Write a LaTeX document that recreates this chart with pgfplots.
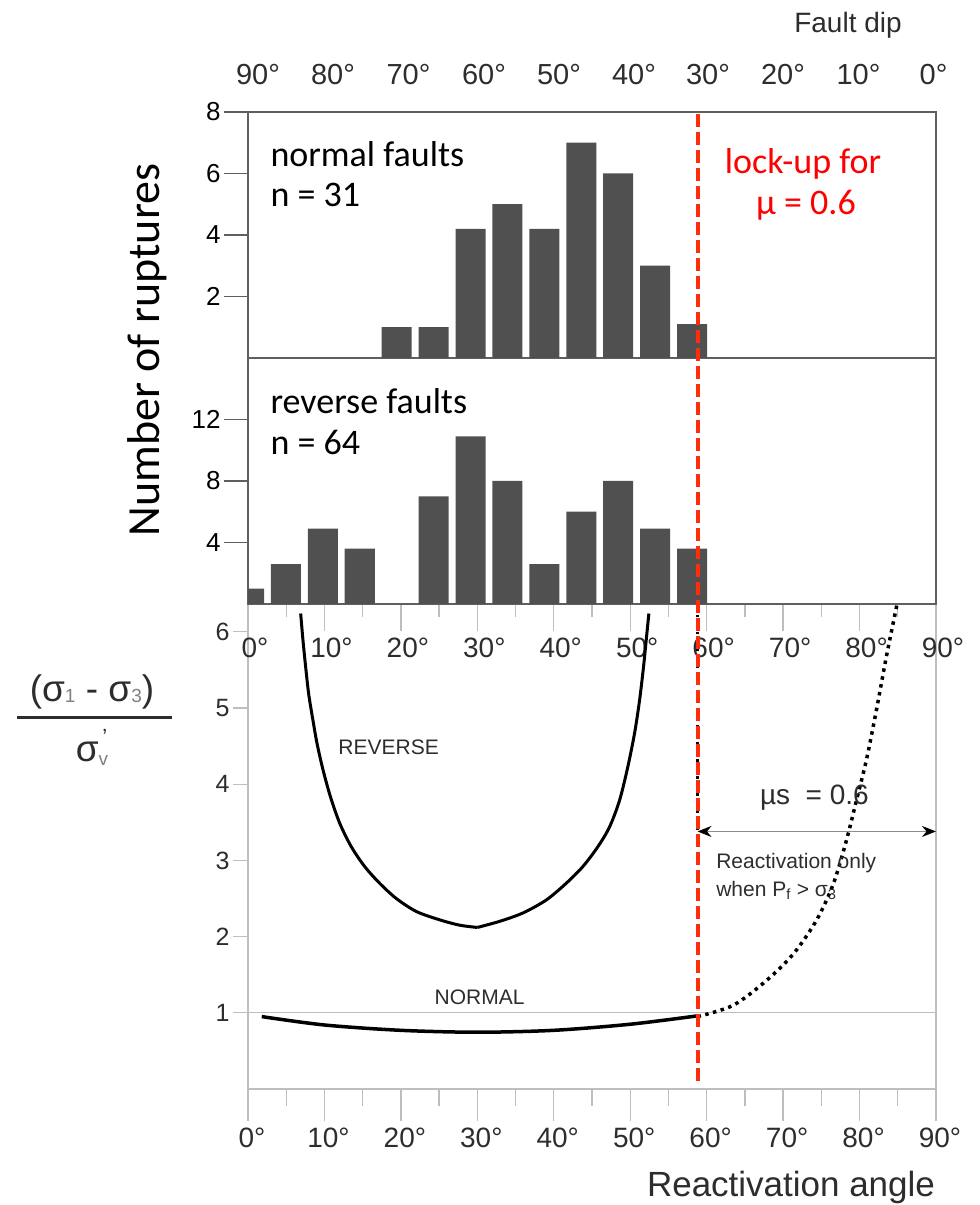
\documentclass[border=0pt]{standalone}
\usepackage{fontspec}
\setmainfont{Liberation Sans}
\newfontfamily\calib{Carlito}
\usepackage{pgfplots}
\pgfplotsset{compat=1.18}
\usetikzlibrary{arrows.meta}
\definecolor{barc}{RGB}{80,80,80}
\definecolor{framec}{RGB}{95,95,95}
\definecolor{lightf}{RGB}{190,190,190}
\definecolor{redl}{RGB}{255,45,10}
\definecolor{textg}{RGB}{45,45,45}
\newcommand{\fs}[1]{\fontsize{#1}{#1}\selectfont}
\pgfplotsset{
  geom/.style={scale only axis, anchor=south west, width=688pt, xmin=0, xmax=90},
}
\begin{document}
\begin{tikzpicture}[x=1pt,y=1pt]
\useasboundingbox (0,0) rectangle (980,1205);

% ---------- bottom panel: stress ratio ----------
\begin{axis}[geom, at={(248pt,116pt)}, height=485pt, ymin=0, ymax=6.365,
  clip=false,
  axis line style={draw=lightf, line width=1.3pt},
  xtick={0,10,...,90}, xticklabels={0°,10°,20°,30°,40°,50°,60°,70°,80°,90°},
  minor xtick={5,15,...,85}, xtick pos=left, tick align=outside,
  major tick length=32pt, minor tick length=17pt,
  tick style={draw=lightf, line width=1.3pt}, ytick=\empty,
  xticklabel style={font=\fs{28}, text=textg, xshift=4pt, yshift=-3pt}]
% inner ticks along the top edge of the panel
\pgfplotsinvokeforeach{0,10,...,90}{\draw[lightf, line width=1.3pt] (axis cs:#1,6.365) -- ++(0pt,-27pt);}
\pgfplotsinvokeforeach{5,15,...,85}{\draw[lightf, line width=1.3pt] (axis cs:#1,6.365) -- ++(0pt,-13pt);}
\pgfplotsinvokeforeach{0,10,...,90}{\node[font=\fs{28}, text=textg, xshift=7pt] at (axis cs:#1,5.79) {#1°};}
\addplot[lightf, line width=1.3pt] coordinates {(0,1) (90,1)};
\addplot[black, line width=3pt, smooth] coordinates {(6.89,6.24) (7.19,5.89) (7.54,5.54) (7.93,5.19) (8.41,4.89) (9.02,4.54) (9.81,4.19) (10.77,3.84) (11.99,3.49) (13.51,3.18) (15.26,2.92) (17.22,2.70) (19.40,2.50) (22.01,2.33) (25.07,2.22) (27.68,2.15) (30,2.12)};
\addplot[black, line width=3pt, smooth] coordinates {(30,2.12) (32.91,2.20) (35.96,2.31) (39.01,2.48) (41.63,2.70) (43.81,2.92) (45.77,3.18) (47.30,3.44) (48.61,3.79) (49.69,4.23) (50.57,4.67) (51.22,5.10) (51.74,5.54) (52.18,5.98) (52.44,6.24)};
\addplot[black, line width=3.5pt, smooth] coordinates {(1.8,0.95) (10,0.84) (20,0.77) (30,0.745) (40,0.77) (50,0.85) (58.8,0.96)};
\addplot[black, line width=3.5pt, dash pattern=on 3.5pt off 4.5pt, smooth] coordinates {(58.8,0.95) (63.5,1.10) (67.9,1.43) (71.4,1.78) (74.4,2.22) (76.6,2.70) (78.3,3.27) (79.6,3.79) (80.9,4.32) (82.2,4.97) (83.5,5.67) (84.9,6.36)};
\addplot[black, line width=2.5pt, dash pattern=on 2.5pt off 6pt] coordinates {(58.8,3.4) (58.8,6.36)};
\addplot[black!45, line width=1.5pt, {Stealth[length=14pt,width=11pt,color=black]}-{Stealth[length=14pt,width=11pt,color=black]}] coordinates {(58.8,3.38) (90,3.38)};
\node[font=\fs{21}, text=textg] at (axis cs:18.4,4.48) {REVERSE};
\node[font=\fs{21}, text=textg] at (axis cs:30.3,1.2) {NORMAL};
\node[font=\fs{28}, text=textg] at (axis cs:74.1,3.83) {µs \ = 0.6};
\node[anchor=west, align=left, font=\fontsize{21}{28}\selectfont, text=textg] at (axis cs:60.8,2.79) {Reactivation only\\when P\textsubscript{f} > σ\textsubscript{3}};
\end{axis}

% y ticks of bottom panel
\begin{axis}[geom, at={(248pt,116pt)}, height=485pt, ymin=0, ymax=6.365,
  axis line style={draw=none}, xtick=\empty, ytick={1,2,3,4,5,6}, ytick pos=left,
  tick align=outside, major tick length=15pt, tick style={draw=lightf, line width=1.3pt},
  yticklabel style={font=\fs{25}, text=textg}, /pgf/number format/assume math mode=true]
\end{axis}

% ---------- middle panel: reverse faults ----------
\begin{axis}[geom, at={(248pt,601pt)}, height=246pt, ymin=0, ymax=16,
  axis line style={draw=framec, line width=1.8pt},
  xtick=\empty, ytick={4,8,12}, ytick pos=left, tick align=outside, major tick length=24pt,
  tick style={draw=framec, line width=1.3pt},
  yticklabel style={font=\fs{26}}, /pgf/number format/assume math mode=true]
\addplot[ybar, bar width=3.93, fill=barc, draw=none] coordinates {(0.13,1) (4.96,2.6) (9.79,4.9) (14.62,3.6) (24.28,7) (29.11,10.9) (33.94,8) (38.77,2.6) (43.6,6) (48.43,8) (53.26,4.9) (58.09,3.6)};
\end{axis}

% ---------- top panel: normal faults ----------
\begin{axis}[geom, at={(248pt,847pt)}, height=246pt, ymin=0, ymax=8,
  axis line style={draw=framec, line width=1.8pt},
  xtick=\empty, ytick={2,4,6,8}, ytick pos=left, tick align=outside, major tick length=24pt,
  tick style={draw=framec, line width=1.3pt},
  yticklabel style={font=\fs{26}}, /pgf/number format/assume math mode=true]
\addplot[ybar, bar width=3.93, fill=barc, draw=none] coordinates {(19.45,1) (24.28,1) (29.11,4.2) (33.94,5) (38.77,4.2) (43.6,7) (48.43,6) (53.26,3) (58.09,1.1)};
\end{axis}

% ---------- red lock-up line ----------
\begin{axis}[geom, at={(248pt,116pt)}, height=977pt, ymin=0, ymax=1, hide axis]
\addplot[redl, line width=4pt, dash pattern=on 13pt off 5pt] coordinates {(58.8,0.008) (58.8,1)};
\end{axis}

% ---------- texts ----------
\node[rotate=90, font=\calib\fs{46}] at (147,855) {Number of ruptures};
\node[anchor=west, font=\calib\fs{36}] at (267,1051) {normal faults};
\node[anchor=west, font=\calib\fs{36}] at (267,1010) {n = 31};
\node[anchor=west, font=\calib\fs{36}] at (267,804) {reverse faults};
\node[anchor=west, font=\calib\fs{36}] at (267,763) {n = 64};
\node[font=\calib\fs{36}, text=red] at (803,1041) {lock-up for};
\node[font=\calib\fs{36}, text=red] at (806,1000) {µ = 0.6};

\node[font=\fs{28}, text=textg] at (848,1180) {Fault dip};
\foreach \xx/\lab in {258/90,333/80,408.5/70,484/60,559/50,634/40,708/30,783/20,858.5/10,933.6/0}
  \node[font=\fs{29}, text=textg] at (\xx,1130) {\lab°};
\node[font=\fs{35}, text=textg] at (791,18) {Reactivation angle};

\node[font=\fs{37}, text=textg] at (92,513) {(σ\raisebox{-1pt}{\fs{19}\color{gray}1} - σ\raisebox{-1pt}{\fs{19}\color{gray}3})};
\fill[textg] (17,486) rectangle (172,489);
\node[font=\fs{37}, text=textg, inner sep=0pt] at (92,458) {σ\raisebox{-4pt}{\fs{19}\color{gray}v}\llap{\raisebox{17pt}{\fs{22}'\hspace{1pt}}}};
\end{tikzpicture}
\end{document}
